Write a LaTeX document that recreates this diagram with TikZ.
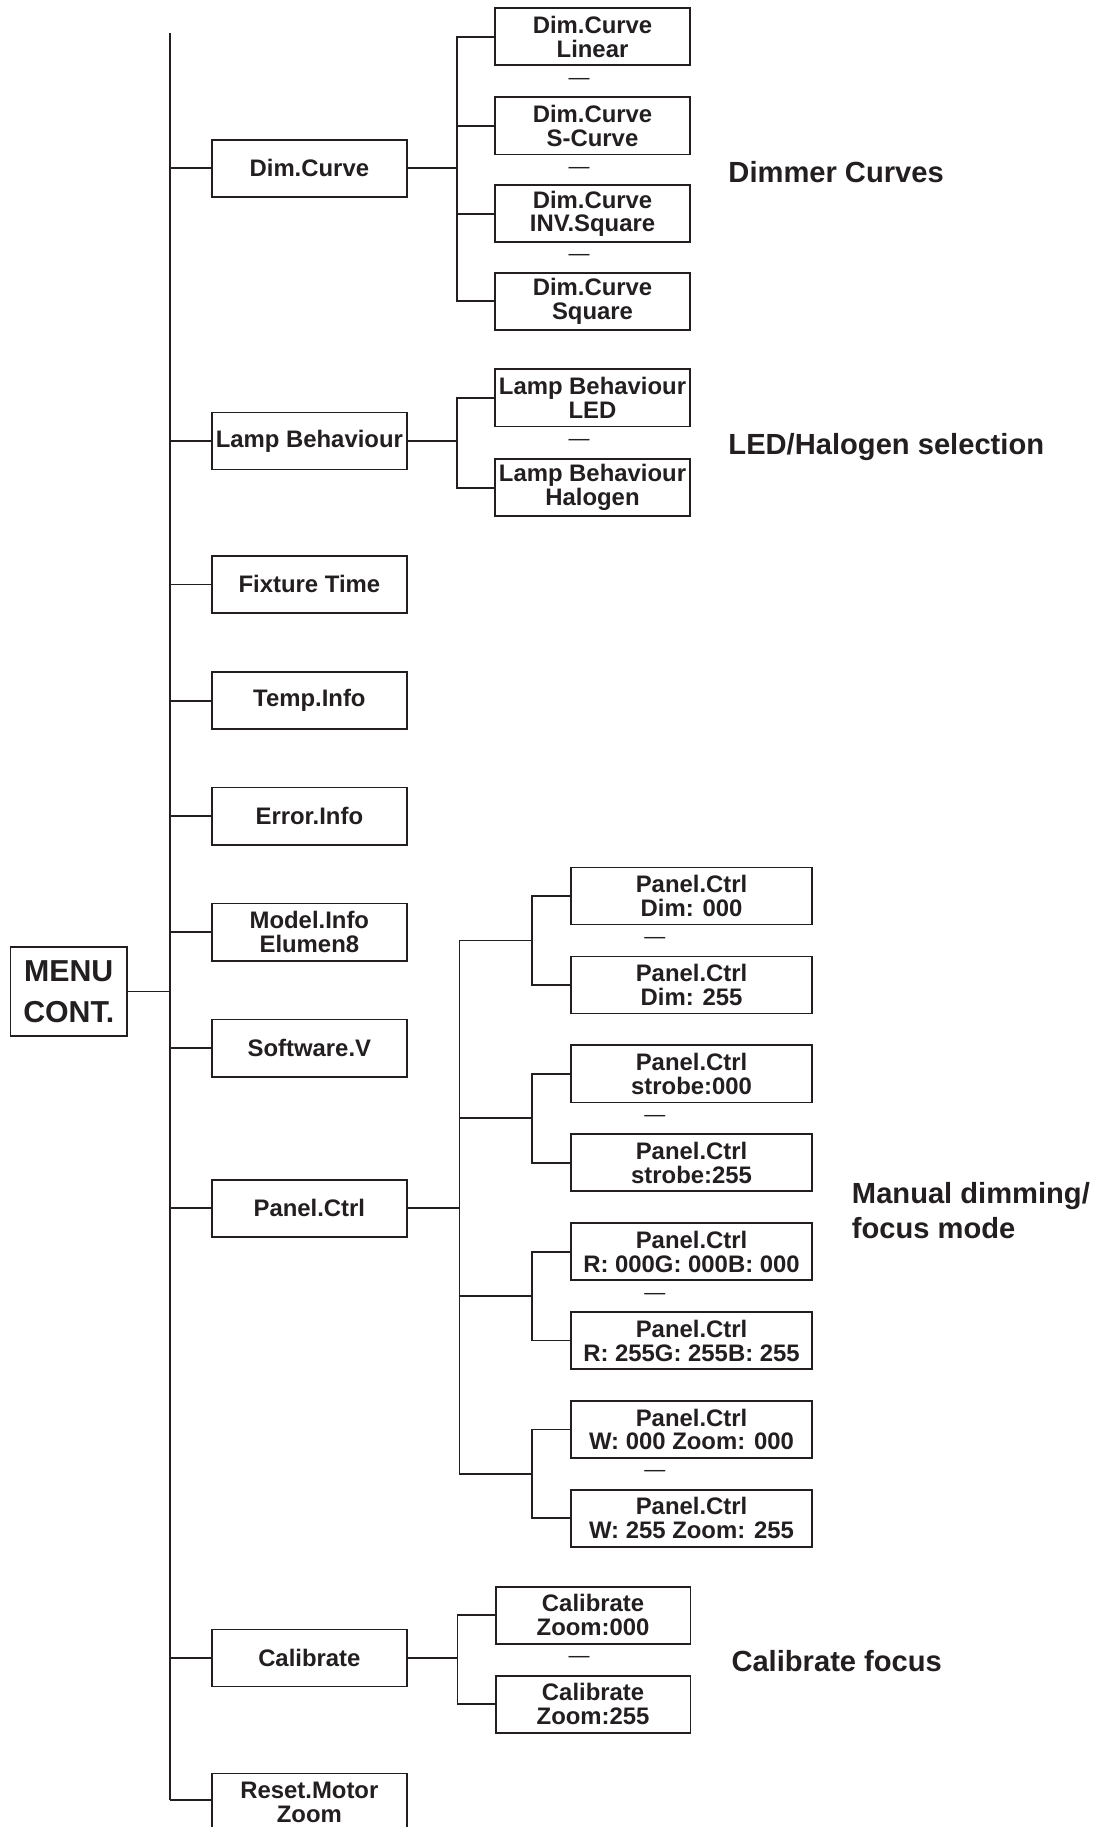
\documentclass[tikz,border=0pt]{standalone}
\usepackage{fontspec}
\setmainfont{Liberation Sans}
\definecolor{ink}{RGB}{35,31,32}
\newcommand{\bxfont}{\fontsize{20.5}{20.5}\selectfont\bfseries}
\newcommand{\mnfont}{\fontsize{26}{35}\selectfont\bfseries}
\newcommand{\lbfont}{\fontsize{25}{30}\selectfont\bfseries}
\newcommand{\dsfont}{\fontsize{18}{18}\selectfont}
\tikzset{
  box/.style={draw=ink, line width=1.5pt, minimum width=167pt, minimum height=49pt,
    inner sep=0pt, align=center, font=\bxfont, text=ink},
  wbox/.style={box, minimum width=207pt},
  mbox/.style={box, minimum width=100pt, minimum height=76pt, font=\mnfont},
  conn/.style={draw=ink, line width=1.5pt},
  dashlbl/.style={font=\dsfont, text=ink, inner sep=0pt},
  lbl/.style={font=\lbfont, text=ink, inner sep=0pt, align=left}
}
\begin{document}
\begin{tikzpicture}[x=1pt,y=-1pt]
\useasboundingbox[fill=white] (0,0) rectangle (947,1568);

% root
\node[mbox] (menu) at (59,851) {MENU\\CONT.};

% level 1
\node[box] (dim)   at (265.5,144.5) {Dim.Curve};
\node[box] (lamp)  at (265.5,378.5) {Lamp Behaviour};
\node[box] (fix)   at (265.5,501.6) {Fixture Time};
\node[box] (temp)  at (265.5,601.4) {Temp.Info};
\node[box] (err)   at (265.5,700.4) {Error.Info};
\node[box] (model) at (265.5,800)   {Model.Info\\Elumen8};
\node[box] (soft)  at (265.5,899.5) {Software.V};
\node[box] (panel) at (265.5,1037)  {Panel.Ctrl};
\node[box] (cal)   at (265.5,1423)  {Calibrate};
\node[box] (reset) at (265.5,1546.5) {Reset.Motor\\Zoom};

% trunk
\coordinate (ttop) at (146,28.5);
\coordinate (tbot) at (146,1545);
\draw[conn] (ttop) -- (tbot);
\draw[conn] (menu.east) -- (menu.east -| ttop);
\foreach \n in {dim,lamp,fix,temp,err,model,soft,panel,cal}
  \draw[conn] (\n.west) -- (\n.west -| ttop);
\draw[conn] (reset.west |- tbot) -- (tbot);

% Dim.Curve children
\node[box] (dlin) at (508.5,31.5)  {Dim.Curve\\Linear};
\node[box] (dsc)  at (508.5,108)   {Dim.Curve\\S-Curve};
\node[box] (dinv) at (508.5,183.5) {Dim.Curve\\INV.Square};
\node[box] (dsq)  at (508.5,258.5) {Dim.Curve\\Square};
\node[dashlbl] (dd1) at (497,70)  {—};
\node[dashlbl] (dd2) at (497,146) {—};
\node[dashlbl] (dd3) at (497,221) {—};
\coordinate (dj) at (392,144.5);
\draw[conn] (dim.east) -- (dj);
\draw[conn] (dlin.west) -| (dj) |- (dsq.west);
\draw[conn] (dsc.west) -- (dsc.west -| dj);
\draw[conn] (dinv.west) -- (dinv.west -| dj);

% Lamp children
\node[box] (lled) at (508.5,341.5) {Lamp Behaviour\\LED};
\node[box] (lhal) at (508.5,418.5) {Lamp Behaviour\\Halogen};
\node[dashlbl] (ld1) at (497,380) {—};
\coordinate (lj) at (392,378.5);
\draw[conn] (lamp.east) -- (lj);
\draw[conn] (lled.west) -| (lj) |- (lhal.west);

% Panel children
\node[wbox] (p1) at (593.5,769)    {Panel.Ctrl\\Dim: 000};
\node[wbox] (p2) at (593.5,845.3)  {Panel.Ctrl\\Dim: 255};
\node[wbox] (p3) at (593.5,921.6)  {Panel.Ctrl\\strobe:000};
\node[wbox] (p4) at (593.5,997.9)  {Panel.Ctrl\\strobe:255};
\node[wbox] (p5) at (593.5,1074.2) {Panel.Ctrl\\R: 000G: 000B: 000};
\node[wbox] (p6) at (593.5,1150.5) {Panel.Ctrl\\R: 255G: 255B: 255};
\node[wbox] (p7) at (593.5,1226.8) {Panel.Ctrl\\W: 000 Zoom: 000};
\node[wbox] (p8) at (593.5,1303.1) {Panel.Ctrl\\W: 255 Zoom: 255};
\coordinate (pa) at (456.7,807.2);
\coordinate (pb) at (456.7,959.8);
\coordinate (pc) at (456.7,1112.4);
\coordinate (pd) at (456.7,1265);
\node[dashlbl] (pd1) at (562,807.2)  {—};
\node[dashlbl] (pd2) at (562,959.8)  {—};
\node[dashlbl] (pd3) at (562,1112.4) {—};
\node[dashlbl] (pd4) at (562,1265)   {—};
\coordinate (pj) at (394.3,1037);
\draw[conn] (panel.east) -- (pj);
\draw[conn] (pa -| pj) -- (pd -| pj);
\draw[conn] (p1.west) -| (pa) |- (p2.west);
\draw[conn] (p3.west) -| (pb) |- (p4.west);
\draw[conn] (p5.west) -| (pc) |- (p6.west);
\draw[conn] (p7.west) -| (pd) |- (p8.west);
\draw[conn] (pa) -- (pa -| pj);
\draw[conn] (pb) -- (pb -| pj);
\draw[conn] (pc) -- (pc -| pj);
\draw[conn] (pd) -- (pd -| pj);

% Calibrate children
\node[box] (c0) at (509,1386.2) {Calibrate\\Zoom:000};
\node[box] (c1) at (509,1462.7) {Calibrate\\Zoom:255};
\node[dashlbl] (cd1) at (497,1424.5) {—};
\coordinate (cj) at (392.7,1423);
\draw[conn] (cal.east) -- (cj);
\draw[conn] (c0.west) -| (cj) |- (c1.west);

% side labels
\node[lbl, anchor=base west] (l1) at (625,156.4)  {Dimmer Curves};
\node[lbl, anchor=base west] (l2) at (625,389.7)  {LED/Halogen selection};
\node[lbl, anchor=west]      (l3) at (731,1039)   {Manual dimming/\\focus mode};
\node[lbl, anchor=base west] (l4) at (627.6,1434.5) {Calibrate focus};
\end{tikzpicture}
\end{document}
